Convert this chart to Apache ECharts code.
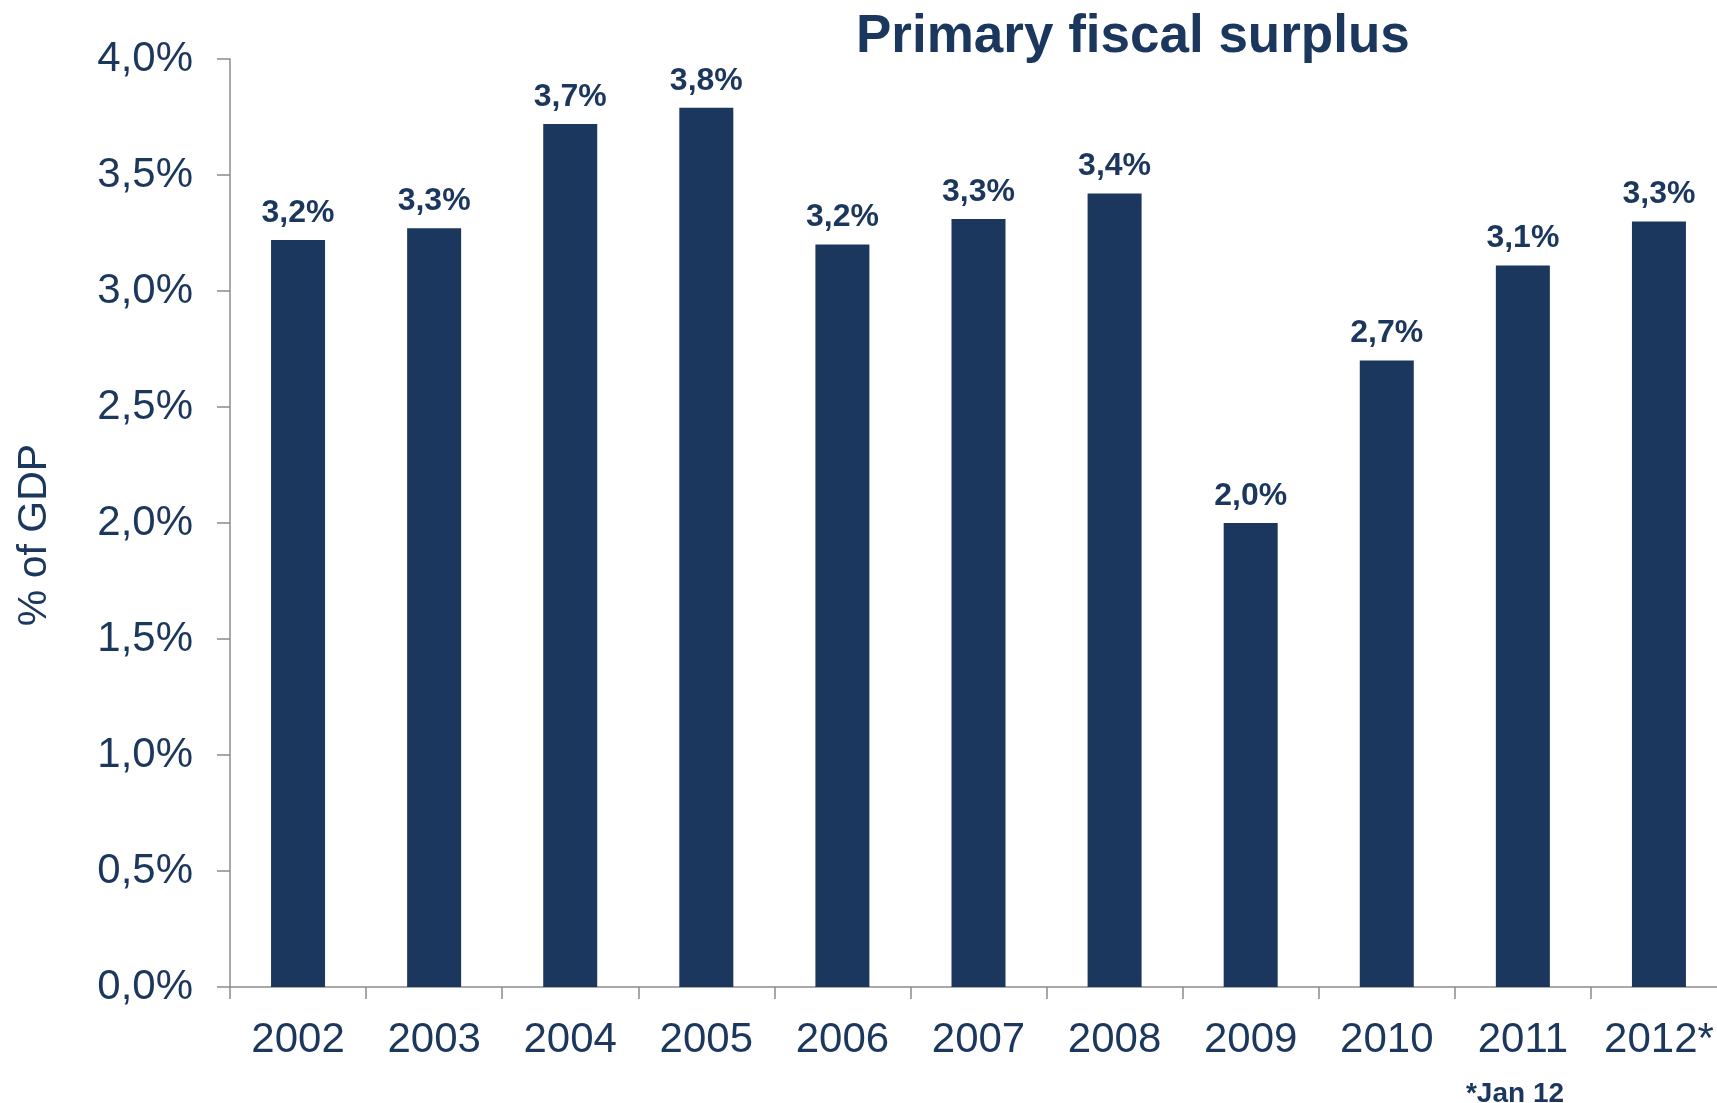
<!DOCTYPE html>
<html>
<head>
<meta charset="utf-8">
<script src="https://cdn.jsdelivr.net/npm/echarts@6/dist/echarts.min.js"></script>
<style>
  html, body { margin: 0; padding: 0; background: #fff; }
  #container { width: 1717px; height: 1103px; }
</style>
</head>
<body>
<div id="container"></div>
<script>
var years = ['2002', '2003', '2004', '2005', '2006', '2007', '2008', '2009', '2010', '2011', '2012*'];
var surplus = [3.22, 3.27, 3.72, 3.79, 3.20, 3.31, 3.42, 2.00, 2.70, 3.11, 3.30];

var navy = '#1b375e';
var axisGrey = '#8c8c8c';
var font = '"Liberation Sans", Arial, sans-serif';

function pct(v) {
	return v.toFixed(1).replace('.', ',') + '%';
}

var myChart = echarts.init(document.getElementById('container'));

myChart.setOption({
	backgroundColor: '#fff',
	animation: false,
	title: {
		text: 'Primary fiscal surplus',
		left: 851,
		top: 6,
		textStyle: {
			color: navy,
			fontFamily: font,
			fontWeight: 'bold',
			fontSize: 53
		}
	},
	grid: {
		left: 230,
		top: 59,
		height: 928,
		width: 1497,
		containLabel: false,
		outerBoundsMode: 'none'
	},
	xAxis: {
		type: 'category',
		data: years,
		axisLine: { lineStyle: { color: axisGrey, width: 1.5 } },
		axisTick: { show: true, interval: 0, length: 12, lineStyle: { color: axisGrey, width: 1.5 } },
		axisLabel: {
			interval: 0,
			color: navy,
			fontFamily: font,
			fontSize: 42,
			margin: 32
		}
	},
	yAxis: {
		type: 'value',
		min: 0,
		max: 4,
		interval: 0.5,
		splitLine: { show: false },
		axisLine: { show: true, lineStyle: { color: axisGrey, width: 1.5 } },
		axisTick: { show: true, length: 13, lineStyle: { color: axisGrey, width: 1.5 } },
		axisLabel: {
			color: navy,
			fontFamily: font,
			fontSize: 42,
			margin: 37,
			padding: [6, 0, 0, 0],
			formatter: function(v) { return pct(v); }
		}
	},
	graphic: [{
		type: 'text',
		x: 35,
		y: 535,
		rotation: Math.PI / 2,
		style: {
			text: '% of GDP',
			fill: navy,
			font: '41px ' + font,
			textAlign: 'center',
			textVerticalAlign: 'middle'
		}
	}, {
		type: 'text',
		x: 1515,
		y: 1094,
		style: {
			text: '*Jan 12',
			fill: navy,
			font: 'bold 28px ' + font,
			textAlign: 'center',
			textVerticalAlign: 'middle'
		}
	}],
	series: [{
		type: 'bar',
		data: surplus,
		barWidth: 54,
		itemStyle: { color: navy },
		label: {
			show: true,
			position: 'top',
			distance: 11,
			color: navy,
			fontFamily: font,
			fontWeight: 'bold',
			fontSize: 32,
			formatter: function(p) { return pct(p.value); }
		}
	}]
});
</script>
</body>
</html>
